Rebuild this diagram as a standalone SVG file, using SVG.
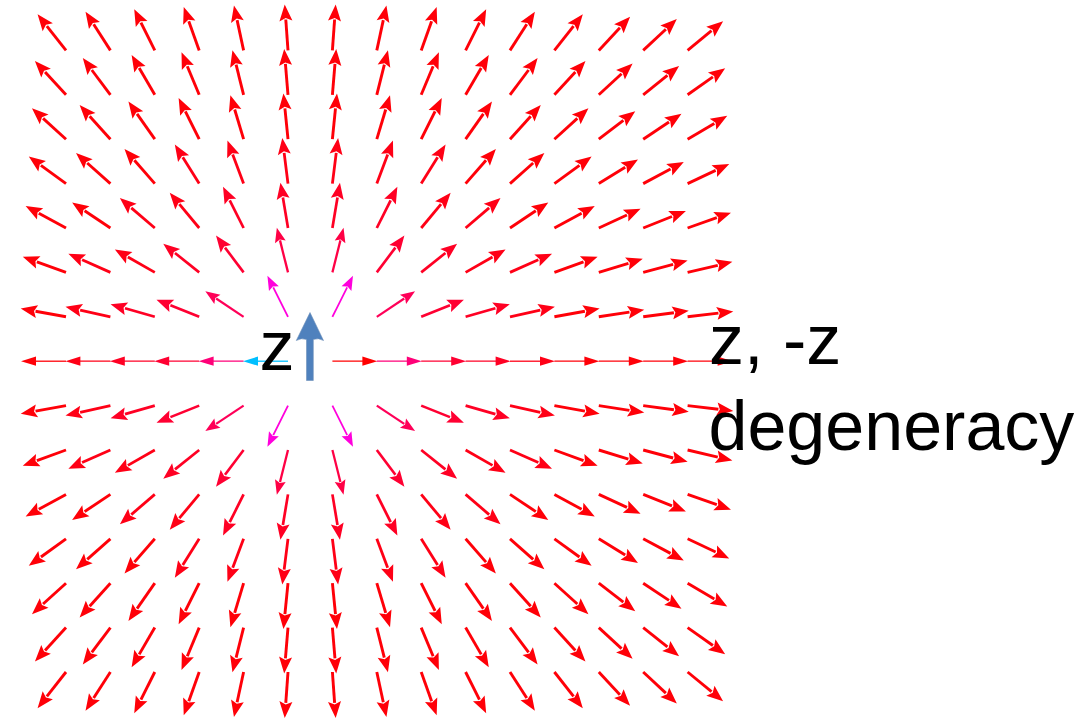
<svg xmlns="http://www.w3.org/2000/svg" width="1085" height="718" viewBox="0 0 1085 718">
<style>
.w{fill:#ff0008;stroke:#ff0008;stroke-width:2.9}
.v{fill:#ff0016;stroke:#ff0016;stroke-width:2.8}
.u{fill:#ff0024;stroke:#ff0024;stroke-width:2.7}
.t{fill:#ff0032;stroke:#ff0032;stroke-width:2.6}
.s{fill:#ff0045;stroke:#ff0045;stroke-width:2.3}
.q{fill:#ff0058;stroke:#ff0058;stroke-width:2.2}
.m{fill:#ff00dc;stroke:#ff00dc;stroke-width:1.8}
.h{fill:#ff0078;stroke:#ff0078}
.cy{fill:#00bfff;stroke:#00bfff}
.r{fill:#ff0000;stroke:#ff0000}
.row0 use{stroke-width:1.3}
.lbl{font-family:"Liberation Sans",Arial,sans-serif;font-size:70px;fill:#000}
</style>
<defs>
<g id="A"><line x1="0" y1="0" x2="31" y2="0"/><path d="M46,0 L29.5,-6.5 L32.5,0 L29.5,6.5Z" stroke="none"/></g>
<g id="S"><line x1="0" y1="0" x2="33" y2="0"/><path d="M46,0 L31.5,-5.5 L34,0 L31.5,5.5Z" stroke="none"/></g>
<g id="H"><line x1="0" y1="0" x2="32" y2="0"/><path d="M45,0 L30,-4.6 L30,4.6Z" stroke="none"/></g>
</defs>
<g id="field">
<g id="row-m14" transform="translate(0,50.4)">
<use href="#A" class="w" transform="translate(66) rotate(-128.16)"/>
<use href="#A" class="w" transform="translate(110.4) rotate(-122.74)"/>
<use href="#A" class="w" transform="translate(154.8) rotate(-116.57)"/>
<use href="#A" class="w" transform="translate(199.2) rotate(-109.65)"/>
<use href="#A" class="w" transform="translate(243.6) rotate(-102.1)"/>
<use href="#A" class="w" transform="translate(288) rotate(-94.09)"/>
<use href="#A" class="w" transform="translate(332.4) rotate(-85.91)"/>
<use href="#A" class="w" transform="translate(376.8) rotate(-77.91)"/>
<use href="#A" class="w" transform="translate(421.2) rotate(-70.35)"/>
<use href="#A" class="w" transform="translate(465.6) rotate(-63.43)"/>
<use href="#A" class="w" transform="translate(510) rotate(-57.27)"/>
<use href="#A" class="w" transform="translate(554.4) rotate(-51.84)"/>
<use href="#A" class="w" transform="translate(598.8) rotate(-47.12)"/>
<use href="#A" class="w" transform="translate(643.2) rotate(-43.03)"/>
<use href="#A" class="w" transform="translate(687.6) rotate(-39.47)"/>
</g>
<g id="row-m12" transform="translate(0,94.8)">
<use href="#A" class="w" transform="translate(66) rotate(-132.51)"/>
<use href="#A" class="w" transform="translate(110.4) rotate(-126.87)"/>
<use href="#A" class="w" transform="translate(154.8) rotate(-120.26)"/>
<use href="#A" class="w" transform="translate(199.2) rotate(-112.62)"/>
<use href="#A" class="w" transform="translate(243.6) rotate(-104.04)"/>
<use href="#A" class="w" transform="translate(288) rotate(-94.76)"/>
<use href="#A" class="w" transform="translate(332.4) rotate(-85.24)"/>
<use href="#A" class="w" transform="translate(376.8) rotate(-75.96)"/>
<use href="#A" class="w" transform="translate(421.2) rotate(-67.38)"/>
<use href="#A" class="w" transform="translate(465.6) rotate(-59.74)"/>
<use href="#A" class="w" transform="translate(510) rotate(-53.13)"/>
<use href="#A" class="w" transform="translate(554.4) rotate(-47.49)"/>
<use href="#A" class="w" transform="translate(598.8) rotate(-42.71)"/>
<use href="#A" class="w" transform="translate(643.2) rotate(-38.66)"/>
<use href="#A" class="w" transform="translate(687.6) rotate(-35.22)"/>
</g>
<g id="row-m10" transform="translate(0,139.2)">
<use href="#A" class="w" transform="translate(66) rotate(-137.73)"/>
<use href="#A" class="w" transform="translate(110.4) rotate(-131.99)"/>
<use href="#A" class="w" transform="translate(154.8) rotate(-124.99)"/>
<use href="#A" class="w" transform="translate(199.2) rotate(-116.57)"/>
<use href="#A" class="w" transform="translate(243.6) rotate(-106.7)"/>
<use href="#A" class="w" transform="translate(288) rotate(-95.71)"/>
<use href="#A" class="w" transform="translate(332.4) rotate(-84.29)"/>
<use href="#A" class="w" transform="translate(376.8) rotate(-73.3)"/>
<use href="#A" class="w" transform="translate(421.2) rotate(-63.43)"/>
<use href="#A" class="w" transform="translate(465.6) rotate(-55.01)"/>
<use href="#A" class="w" transform="translate(510) rotate(-48.01)"/>
<use href="#A" class="w" transform="translate(554.4) rotate(-42.27)"/>
<use href="#A" class="w" transform="translate(598.8) rotate(-37.57)"/>
<use href="#A" class="w" transform="translate(643.2) rotate(-33.69)"/>
<use href="#A" class="w" transform="translate(687.6) rotate(-30.47)"/>
</g>
<g id="row-m8" transform="translate(0,183.6)">
<use href="#A" class="w" transform="translate(66) rotate(-143.97)"/>
<use href="#A" class="w" transform="translate(110.4) rotate(-138.37)"/>
<use href="#A" class="w" transform="translate(154.8) rotate(-131.19)"/>
<use href="#A" class="v" transform="translate(199.2) rotate(-122.01)"/>
<use href="#A" class="v" transform="translate(243.6) rotate(-110.56)"/>
<use href="#A" class="v" transform="translate(288) rotate(-97.13)"/>
<use href="#A" class="v" transform="translate(332.4) rotate(-82.88)"/>
<use href="#A" class="v" transform="translate(376.8) rotate(-69.44)"/>
<use href="#A" class="v" transform="translate(421.2) rotate(-58)"/>
<use href="#A" class="w" transform="translate(465.6) rotate(-48.81)"/>
<use href="#A" class="w" transform="translate(510) rotate(-41.63)"/>
<use href="#A" class="w" transform="translate(554.4) rotate(-36.03)"/>
<use href="#A" class="w" transform="translate(598.8) rotate(-31.61)"/>
<use href="#A" class="w" transform="translate(643.2) rotate(-28.07)"/>
<use href="#A" class="w" transform="translate(687.6) rotate(-25.2)"/>
</g>
<g id="row-m6" transform="translate(0,228)">
<use href="#A" class="w" transform="translate(66) rotate(-151.39)"/>
<use href="#A" class="w" transform="translate(110.4) rotate(-146.31)"/>
<use href="#A" class="v" transform="translate(154.8) rotate(-139.4)"/>
<use href="#A" class="v" transform="translate(199.2) rotate(-129.81)"/>
<use href="#A" class="u" transform="translate(243.6) rotate(-116.57)"/>
<use href="#A" class="u" transform="translate(288) rotate(-99.46)"/>
<use href="#A" class="u" transform="translate(332.4) rotate(-80.54)"/>
<use href="#A" class="u" transform="translate(376.8) rotate(-63.43)"/>
<use href="#A" class="v" transform="translate(421.2) rotate(-50.19)"/>
<use href="#A" class="v" transform="translate(465.6) rotate(-40.6)"/>
<use href="#A" class="w" transform="translate(510) rotate(-33.69)"/>
<use href="#A" class="w" transform="translate(554.4) rotate(-28.61)"/>
<use href="#A" class="w" transform="translate(598.8) rotate(-24.78)"/>
<use href="#A" class="w" transform="translate(643.2) rotate(-21.8)"/>
<use href="#A" class="w" transform="translate(687.6) rotate(-19.44)"/>
</g>
<g id="row-m4" transform="translate(0,272.4)">
<use href="#A" class="w" transform="translate(66) rotate(-160.02)"/>
<use href="#A" class="v" transform="translate(110.4) rotate(-156.04)"/>
<use href="#A" class="v" transform="translate(154.8) rotate(-150.26)"/>
<use href="#A" class="u" transform="translate(199.2) rotate(-141.34)"/>
<use href="#A" class="t" transform="translate(243.6) rotate(-126.87)"/>
<use href="#S" class="s" transform="translate(288) rotate(-104.04)"/>
<use href="#S" class="s" transform="translate(332.4) rotate(-75.96)"/>
<use href="#A" class="t" transform="translate(376.8) rotate(-53.13)"/>
<use href="#A" class="u" transform="translate(421.2) rotate(-38.66)"/>
<use href="#A" class="v" transform="translate(465.6) rotate(-29.75)"/>
<use href="#A" class="v" transform="translate(510) rotate(-23.96)"/>
<use href="#A" class="w" transform="translate(554.4) rotate(-19.98)"/>
<use href="#A" class="w" transform="translate(598.8) rotate(-17.1)"/>
<use href="#A" class="w" transform="translate(643.2) rotate(-14.93)"/>
<use href="#A" class="w" transform="translate(687.6) rotate(-13.24)"/>
</g>
<g id="row-m2" transform="translate(0,316.8)">
<use href="#A" class="w" transform="translate(66) rotate(-169.7)"/>
<use href="#A" class="v" transform="translate(110.4) rotate(-167.47)"/>
<use href="#A" class="u" transform="translate(154.8) rotate(-164.06)"/>
<use href="#A" class="t" transform="translate(199.2) rotate(-158.2)"/>
<use href="#S" class="q" transform="translate(243.6) rotate(-146.31)"/>
<use href="#S" class="m" transform="translate(288) rotate(-116.57)"/>
<use href="#S" class="m" transform="translate(332.4) rotate(-63.43)"/>
<use href="#S" class="q" transform="translate(376.8) rotate(-33.69)"/>
<use href="#A" class="t" transform="translate(421.2) rotate(-21.8)"/>
<use href="#A" class="u" transform="translate(465.6) rotate(-15.95)"/>
<use href="#A" class="v" transform="translate(510) rotate(-12.53)"/>
<use href="#A" class="w" transform="translate(554.4) rotate(-10.31)"/>
<use href="#A" class="w" transform="translate(598.8) rotate(-8.75)"/>
<use href="#A" class="w" transform="translate(643.2) rotate(-7.6)"/>
<use href="#A" class="w" transform="translate(687.6) rotate(-6.71)"/>
</g>
<g id="row-0" class="row0" transform="translate(0,361.2)">
<use href="#H" class="w" transform="translate(66) rotate(180)"/>
<use href="#H" class="v" transform="translate(110.4) rotate(180)"/>
<use href="#H" class="u" transform="translate(154.8) rotate(180)"/>
<use href="#H" class="t" transform="translate(199.2) rotate(180)"/>
<use href="#H" class="h" transform="translate(243.6) rotate(180)"/>
<use href="#H" class="cy" transform="translate(288) rotate(180)"/>
<use href="#H" class="r" transform="translate(332.4)"/>
<use href="#H" class="h" transform="translate(376.8)"/>
<use href="#H" class="t" transform="translate(421.2)"/>
<use href="#H" class="u" transform="translate(465.6)"/>
<use href="#H" class="v" transform="translate(510)"/>
<use href="#H" class="w" transform="translate(554.4)"/>
<use href="#H" class="w" transform="translate(598.8)"/>
<use href="#H" class="w" transform="translate(643.2)"/>
<use href="#H" class="w" transform="translate(687.6)"/>
</g>
<g id="row-p2" transform="translate(0,405.6)">
<use href="#A" class="w" transform="translate(66) rotate(169.7)"/>
<use href="#A" class="v" transform="translate(110.4) rotate(167.47)"/>
<use href="#A" class="u" transform="translate(154.8) rotate(164.06)"/>
<use href="#A" class="t" transform="translate(199.2) rotate(158.2)"/>
<use href="#S" class="q" transform="translate(243.6) rotate(146.31)"/>
<use href="#S" class="m" transform="translate(288) rotate(116.57)"/>
<use href="#S" class="m" transform="translate(332.4) rotate(63.43)"/>
<use href="#S" class="q" transform="translate(376.8) rotate(33.69)"/>
<use href="#A" class="t" transform="translate(421.2) rotate(21.8)"/>
<use href="#A" class="u" transform="translate(465.6) rotate(15.95)"/>
<use href="#A" class="v" transform="translate(510) rotate(12.53)"/>
<use href="#A" class="w" transform="translate(554.4) rotate(10.31)"/>
<use href="#A" class="w" transform="translate(598.8) rotate(8.75)"/>
<use href="#A" class="w" transform="translate(643.2) rotate(7.6)"/>
<use href="#A" class="w" transform="translate(687.6) rotate(6.71)"/>
</g>
<g id="row-p4" transform="translate(0,450)">
<use href="#A" class="w" transform="translate(66) rotate(160.02)"/>
<use href="#A" class="v" transform="translate(110.4) rotate(156.04)"/>
<use href="#A" class="v" transform="translate(154.8) rotate(150.26)"/>
<use href="#A" class="u" transform="translate(199.2) rotate(141.34)"/>
<use href="#A" class="t" transform="translate(243.6) rotate(126.87)"/>
<use href="#S" class="s" transform="translate(288) rotate(104.04)"/>
<use href="#S" class="s" transform="translate(332.4) rotate(75.96)"/>
<use href="#A" class="t" transform="translate(376.8) rotate(53.13)"/>
<use href="#A" class="u" transform="translate(421.2) rotate(38.66)"/>
<use href="#A" class="v" transform="translate(465.6) rotate(29.75)"/>
<use href="#A" class="v" transform="translate(510) rotate(23.96)"/>
<use href="#A" class="w" transform="translate(554.4) rotate(19.98)"/>
<use href="#A" class="w" transform="translate(598.8) rotate(17.1)"/>
<use href="#A" class="w" transform="translate(643.2) rotate(14.93)"/>
<use href="#A" class="w" transform="translate(687.6) rotate(13.24)"/>
</g>
<g id="row-p6" transform="translate(0,494.4)">
<use href="#A" class="w" transform="translate(66) rotate(151.39)"/>
<use href="#A" class="w" transform="translate(110.4) rotate(146.31)"/>
<use href="#A" class="v" transform="translate(154.8) rotate(139.4)"/>
<use href="#A" class="v" transform="translate(199.2) rotate(129.81)"/>
<use href="#A" class="u" transform="translate(243.6) rotate(116.57)"/>
<use href="#A" class="u" transform="translate(288) rotate(99.46)"/>
<use href="#A" class="u" transform="translate(332.4) rotate(80.54)"/>
<use href="#A" class="u" transform="translate(376.8) rotate(63.43)"/>
<use href="#A" class="v" transform="translate(421.2) rotate(50.19)"/>
<use href="#A" class="v" transform="translate(465.6) rotate(40.6)"/>
<use href="#A" class="w" transform="translate(510) rotate(33.69)"/>
<use href="#A" class="w" transform="translate(554.4) rotate(28.61)"/>
<use href="#A" class="w" transform="translate(598.8) rotate(24.78)"/>
<use href="#A" class="w" transform="translate(643.2) rotate(21.8)"/>
<use href="#A" class="w" transform="translate(687.6) rotate(19.44)"/>
</g>
<g id="row-p8" transform="translate(0,538.8)">
<use href="#A" class="w" transform="translate(66) rotate(143.97)"/>
<use href="#A" class="w" transform="translate(110.4) rotate(138.37)"/>
<use href="#A" class="w" transform="translate(154.8) rotate(131.19)"/>
<use href="#A" class="v" transform="translate(199.2) rotate(122.01)"/>
<use href="#A" class="v" transform="translate(243.6) rotate(110.56)"/>
<use href="#A" class="v" transform="translate(288) rotate(97.13)"/>
<use href="#A" class="v" transform="translate(332.4) rotate(82.88)"/>
<use href="#A" class="v" transform="translate(376.8) rotate(69.44)"/>
<use href="#A" class="v" transform="translate(421.2) rotate(58)"/>
<use href="#A" class="w" transform="translate(465.6) rotate(48.81)"/>
<use href="#A" class="w" transform="translate(510) rotate(41.63)"/>
<use href="#A" class="w" transform="translate(554.4) rotate(36.03)"/>
<use href="#A" class="w" transform="translate(598.8) rotate(31.61)"/>
<use href="#A" class="w" transform="translate(643.2) rotate(28.07)"/>
<use href="#A" class="w" transform="translate(687.6) rotate(25.2)"/>
</g>
<g id="row-p10" transform="translate(0,583.2)">
<use href="#A" class="w" transform="translate(66) rotate(137.73)"/>
<use href="#A" class="w" transform="translate(110.4) rotate(131.99)"/>
<use href="#A" class="w" transform="translate(154.8) rotate(124.99)"/>
<use href="#A" class="w" transform="translate(199.2) rotate(116.57)"/>
<use href="#A" class="w" transform="translate(243.6) rotate(106.7)"/>
<use href="#A" class="w" transform="translate(288) rotate(95.71)"/>
<use href="#A" class="w" transform="translate(332.4) rotate(84.29)"/>
<use href="#A" class="w" transform="translate(376.8) rotate(73.3)"/>
<use href="#A" class="w" transform="translate(421.2) rotate(63.43)"/>
<use href="#A" class="w" transform="translate(465.6) rotate(55.01)"/>
<use href="#A" class="w" transform="translate(510) rotate(48.01)"/>
<use href="#A" class="w" transform="translate(554.4) rotate(42.27)"/>
<use href="#A" class="w" transform="translate(598.8) rotate(37.57)"/>
<use href="#A" class="w" transform="translate(643.2) rotate(33.69)"/>
<use href="#A" class="w" transform="translate(687.6) rotate(30.47)"/>
</g>
<g id="row-p12" transform="translate(0,627.6)">
<use href="#A" class="w" transform="translate(66) rotate(132.51)"/>
<use href="#A" class="w" transform="translate(110.4) rotate(126.87)"/>
<use href="#A" class="w" transform="translate(154.8) rotate(120.26)"/>
<use href="#A" class="w" transform="translate(199.2) rotate(112.62)"/>
<use href="#A" class="w" transform="translate(243.6) rotate(104.04)"/>
<use href="#A" class="w" transform="translate(288) rotate(94.76)"/>
<use href="#A" class="w" transform="translate(332.4) rotate(85.24)"/>
<use href="#A" class="w" transform="translate(376.8) rotate(75.96)"/>
<use href="#A" class="w" transform="translate(421.2) rotate(67.38)"/>
<use href="#A" class="w" transform="translate(465.6) rotate(59.74)"/>
<use href="#A" class="w" transform="translate(510) rotate(53.13)"/>
<use href="#A" class="w" transform="translate(554.4) rotate(47.49)"/>
<use href="#A" class="w" transform="translate(598.8) rotate(42.71)"/>
<use href="#A" class="w" transform="translate(643.2) rotate(38.66)"/>
<use href="#A" class="w" transform="translate(687.6) rotate(35.22)"/>
</g>
<g id="row-p14" transform="translate(0,672)">
<use href="#A" class="w" transform="translate(66) rotate(128.16)"/>
<use href="#A" class="w" transform="translate(110.4) rotate(122.74)"/>
<use href="#A" class="w" transform="translate(154.8) rotate(116.57)"/>
<use href="#A" class="w" transform="translate(199.2) rotate(109.65)"/>
<use href="#A" class="w" transform="translate(243.6) rotate(102.1)"/>
<use href="#A" class="w" transform="translate(288) rotate(94.09)"/>
<use href="#A" class="w" transform="translate(332.4) rotate(85.91)"/>
<use href="#A" class="w" transform="translate(376.8) rotate(77.91)"/>
<use href="#A" class="w" transform="translate(421.2) rotate(70.35)"/>
<use href="#A" class="w" transform="translate(465.6) rotate(63.43)"/>
<use href="#A" class="w" transform="translate(510) rotate(57.27)"/>
<use href="#A" class="w" transform="translate(554.4) rotate(51.84)"/>
<use href="#A" class="w" transform="translate(598.8) rotate(47.12)"/>
<use href="#A" class="w" transform="translate(643.2) rotate(43.03)"/>
<use href="#A" class="w" transform="translate(687.6) rotate(39.47)"/>
</g>
</g>
<g id="z-arrow">
<path d="M310,312.5 L323.5,340.5 Q318.5,337.5 313.3,339.5 L313.3,380.5 L306.5,380.5 L306.5,339.5 Q301.3,337.5 296.3,340.5 Z" fill="#4f81bd" stroke="#6d8fb8" stroke-width="0.6"/>
</g>
<g id="labels">
<text class="lbl" x="259.5" y="370">z</text>
<text class="lbl" x="709" y="364">z, -z</text>
<text class="lbl" x="708.5" y="450">degeneracy</text>
</g>
</svg>
